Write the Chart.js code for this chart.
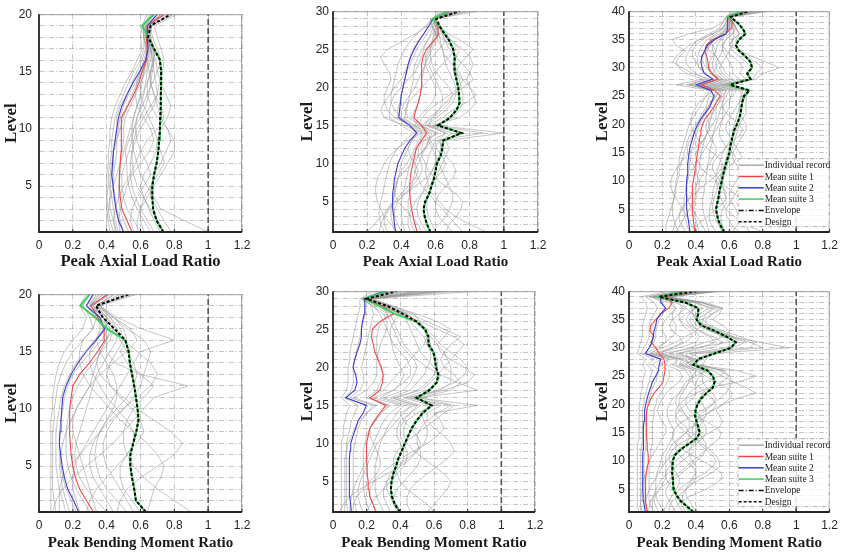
<!DOCTYPE html>
<html><head><meta charset="utf-8">
<script src="https://cdn.jsdelivr.net/npm/chart.js@4.4.0/dist/chart.umd.min.js"></script>
<style>
html,body{margin:0;padding:0;background:#fff;}
#wrap{position:relative;width:844px;height:554px;overflow:hidden;background:#fff;}
#wrap canvas{position:absolute;}
</style></head><body><div id="wrap"></div>
<script>
// ---------- categories ----------
const levels20 = [1,2,3,4,5,6,7,8,9,10,11,12,13,14,15,16,17,18,19,20];
const levels30 = [1,2,3,4,5,6,7,8,9,10,11,12,13,14,15,16,17,18,19,20,21,22,23,24,25,26,27,28,29,30];
const levels40 = [1,2,3,4,5,6,7,8,9,10,11,12,13,14,15,16,17,18,19,20,21,22,23,24,25,26,27,28,29,30,31,32,33,34,35,36,37,38,39,40];
const xTickValues = [0,0.2,0.4,0.6,0.8,1,1.2];
const designRatio = 1;
const legendLabels = ['Individual record','Mean suite 1','Mean suite 2','Mean suite 3','Envelope','Design'];

// ---------- 20-storey, axial ----------
const axial20Records = [
[0.42,0.41,0.40,0.40,0.41,0.41,0.42,0.43,0.43,0.44,0.45,0.47,0.50,0.53,0.56,0.60,0.62,0.62,0.62,0.66],
[0.47,0.45,0.44,0.43,0.42,0.43,0.44,0.44,0.45,0.46,0.46,0.48,0.52,0.55,0.58,0.61,0.63,0.64,0.64,0.70],
[0.53,0.50,0.48,0.47,0.47,0.48,0.48,0.49,0.50,0.50,0.51,0.54,0.57,0.60,0.63,0.65,0.66,0.64,0.65,0.72],
[0.60,0.56,0.52,0.50,0.49,0.49,0.51,0.53,0.55,0.56,0.58,0.60,0.62,0.63,0.64,0.66,0.67,0.66,0.66,0.74],
[0.66,0.62,0.58,0.55,0.53,0.52,0.52,0.51,0.53,0.56,0.60,0.63,0.65,0.66,0.67,0.68,0.66,0.64,0.67,0.76],
[0.72,0.68,0.65,0.62,0.60,0.62,0.66,0.69,0.70,0.68,0.65,0.62,0.60,0.60,0.62,0.64,0.65,0.63,0.63,0.68],
[1.00,0.86,0.72,0.68,0.64,0.60,0.58,0.56,0.55,0.55,0.56,0.58,0.61,0.64,0.66,0.68,0.68,0.65,0.66,0.80],
[0.45,0.44,0.45,0.47,0.50,0.54,0.57,0.60,0.64,0.70,0.74,0.72,0.68,0.66,0.66,0.67,0.66,0.63,0.64,0.72],
[0.78,0.74,0.70,0.66,0.66,0.68,0.72,0.75,0.78,0.76,0.72,0.70,0.68,0.66,0.65,0.64,0.63,0.62,0.61,0.66],
[0.50,0.48,0.46,0.45,0.44,0.44,0.45,0.46,0.46,0.47,0.48,0.50,0.53,0.57,0.60,0.63,0.65,0.63,0.63,0.70],
[0.56,0.54,0.55,0.58,0.62,0.66,0.64,0.60,0.58,0.57,0.58,0.61,0.64,0.67,0.70,0.72,0.70,0.67,0.66,0.78],
[0.44,0.42,0.41,0.40,0.40,0.40,0.41,0.41,0.42,0.42,0.43,0.45,0.48,0.51,0.55,0.58,0.61,0.60,0.61,0.64],
[0.62,0.60,0.60,0.62,0.66,0.70,0.74,0.72,0.70,0.72,0.76,0.78,0.75,0.72,0.70,0.69,0.67,0.64,0.65,0.72],
[0.48,0.47,0.48,0.50,0.52,0.55,0.60,0.65,0.68,0.66,0.62,0.58,0.57,0.58,0.60,0.62,0.64,0.62,0.62,0.68],
[0.74,0.70,0.66,0.62,0.58,0.56,0.55,0.55,0.56,0.58,0.62,0.66,0.70,0.71,0.73,0.74,0.72,0.70,0.68,0.82],
[0.40,0.40,0.41,0.42,0.44,0.46,0.48,0.50,0.52,0.54,0.56,0.58,0.60,0.61,0.62,0.63,0.64,0.62,0.62,0.67],
[0.68,0.64,0.60,0.57,0.55,0.54,0.54,0.55,0.57,0.60,0.64,0.68,0.70,0.69,0.68,0.67,0.66,0.64,0.64,0.75],
[0.46,0.44,0.42,0.42,0.42,0.42,0.43,0.44,0.46,0.48,0.50,0.52,0.55,0.58,0.61,0.64,0.66,0.65,0.65,0.73],
[0.58,0.58,0.60,0.64,0.68,0.72,0.76,0.80,0.80,0.76,0.70,0.66,0.64,0.64,0.66,0.68,0.68,0.66,0.65,0.70]
];
const axial20Suite1 = [0.55,0.52,0.49,0.48,0.475,0.475,0.48,0.485,0.485,0.485,0.49,0.525,0.56,0.59,0.61,0.635,0.64,0.635,0.64,0.74];
const axial20Suite2 = [0.50,0.47,0.455,0.445,0.438,0.43,0.435,0.44,0.45,0.46,0.47,0.49,0.52,0.555,0.595,0.63,0.645,0.64,0.64,0.70];
const axial20Suite3 = [0.735,0.695,0.675,0.67,0.67,0.68,0.695,0.705,0.71,0.715,0.717,0.72,0.72,0.722,0.722,0.715,0.68,0.645,0.61,0.68];
const axial20Envelope = [0.735,0.695,0.675,0.67,0.67,0.68,0.695,0.705,0.71,0.715,0.717,0.72,0.72,0.722,0.722,0.715,0.68,0.645,0.66,0.78];

// ---------- 30-storey, axial ----------
const axial30Records = [
[0.30,0.28,0.27,0.27,0.28,0.29,0.30,0.31,0.32,0.33,0.35,0.38,0.42,0.47,0.40,0.33,0.33,0.34,0.34,0.35,0.36,0.37,0.38,0.40,0.42,0.45,0.49,0.54,0.58,0.64],
[0.36,0.35,0.34,0.34,0.35,0.36,0.37,0.38,0.39,0.40,0.42,0.44,0.46,0.49,0.44,0.38,0.38,0.39,0.40,0.41,0.42,0.43,0.45,0.47,0.49,0.52,0.55,0.58,0.60,0.68],
[0.42,0.41,0.40,0.40,0.40,0.41,0.42,0.43,0.44,0.45,0.47,0.49,0.51,0.53,0.47,0.42,0.43,0.44,0.45,0.46,0.47,0.47,0.48,0.50,0.52,0.55,0.58,0.61,0.60,0.72],
[0.48,0.46,0.45,0.44,0.44,0.45,0.46,0.47,0.48,0.50,0.52,0.54,0.56,0.58,0.50,0.46,0.48,0.50,0.51,0.52,0.52,0.53,0.54,0.55,0.57,0.59,0.61,0.62,0.60,0.75],
[0.55,0.52,0.50,0.49,0.50,0.52,0.54,0.56,0.58,0.60,0.62,0.63,0.63,0.70,0.55,0.60,0.66,0.70,0.72,0.72,0.70,0.68,0.66,0.65,0.64,0.63,0.62,0.61,0.59,0.70],
[0.20,0.24,0.28,0.32,0.35,0.36,0.37,0.38,0.40,0.43,0.46,0.48,0.50,0.52,0.46,0.36,0.32,0.30,0.30,0.32,0.34,0.33,0.30,0.28,0.32,0.40,0.48,0.55,0.58,0.62],
[0.90,0.80,0.72,0.66,0.62,0.58,0.56,0.55,0.54,0.55,0.56,0.58,0.60,0.88,0.58,0.74,0.80,0.84,0.82,0.80,0.78,0.80,0.82,0.80,0.76,0.70,0.65,0.62,0.60,0.85],
[0.66,0.68,0.72,0.75,0.76,0.72,0.66,0.60,0.56,0.54,0.52,0.52,0.53,0.62,0.50,0.52,0.56,0.62,0.68,0.74,0.76,0.74,0.70,0.66,0.64,0.62,0.60,0.58,0.58,0.66],
[0.38,0.34,0.30,0.28,0.26,0.25,0.25,0.26,0.28,0.30,0.33,0.38,0.44,0.52,0.42,0.30,0.28,0.30,0.33,0.36,0.40,0.42,0.44,0.45,0.47,0.50,0.53,0.56,0.59,0.64],
[0.60,0.58,0.56,0.55,0.55,0.56,0.58,0.60,0.62,0.64,0.66,0.68,0.66,1.00,0.60,0.70,0.74,0.76,0.76,0.75,0.74,0.72,0.70,0.72,0.74,0.70,0.66,0.63,0.61,0.78],
[0.45,0.44,0.44,0.46,0.48,0.52,0.56,0.60,0.64,0.66,0.64,0.60,0.57,0.56,0.52,0.58,0.64,0.68,0.70,0.68,0.64,0.60,0.58,0.57,0.57,0.58,0.59,0.60,0.58,0.70],
[0.52,0.50,0.46,0.42,0.38,0.36,0.36,0.38,0.42,0.46,0.50,0.54,0.56,0.60,0.52,0.44,0.42,0.44,0.48,0.52,0.56,0.60,0.64,0.68,0.72,0.66,0.60,0.58,0.57,0.68],
[0.32,0.30,0.30,0.32,0.36,0.40,0.44,0.48,0.50,0.48,0.45,0.44,0.46,0.50,0.45,0.40,0.36,0.34,0.36,0.40,0.44,0.48,0.50,0.52,0.53,0.55,0.57,0.59,0.60,0.66],
[0.70,0.66,0.62,0.60,0.60,0.62,0.66,0.70,0.72,0.70,0.66,0.64,0.62,0.76,0.56,0.64,0.70,0.78,0.84,0.80,0.76,0.72,0.74,0.78,0.82,0.76,0.68,0.62,0.60,0.72],
[0.27,0.28,0.30,0.33,0.37,0.42,0.46,0.50,0.52,0.52,0.50,0.50,0.52,0.56,0.48,0.40,0.40,0.42,0.45,0.48,0.50,0.52,0.54,0.56,0.58,0.60,0.61,0.60,0.59,0.66],
[0.58,0.62,0.66,0.68,0.70,0.70,0.68,0.66,0.64,0.62,0.60,0.60,0.62,0.66,0.56,0.58,0.62,0.64,0.64,0.62,0.60,0.58,0.56,0.58,0.62,0.66,0.64,0.62,0.60,0.74],
[0.40,0.38,0.36,0.36,0.38,0.42,0.48,0.54,0.58,0.60,0.60,0.58,0.56,0.54,0.48,0.50,0.54,0.58,0.60,0.60,0.58,0.56,0.54,0.54,0.56,0.58,0.60,0.61,0.60,0.70],
[0.76,0.72,0.68,0.64,0.60,0.56,0.52,0.50,0.48,0.48,0.50,0.54,0.58,0.66,0.54,0.56,0.62,0.66,0.70,0.76,0.82,0.80,0.76,0.72,0.68,0.66,0.64,0.62,0.60,0.80]
];
const axial30Suite1 = [0.492,0.48,0.469,0.46,0.453,0.45,0.449,0.452,0.458,0.468,0.478,0.488,0.518,0.547,0.52,0.473,0.485,0.50,0.51,0.518,0.518,0.518,0.52,0.527,0.547,0.586,0.62,0.615,0.59,0.68];
const axial30Suite2 = [0.367,0.36,0.355,0.35,0.348,0.35,0.355,0.36,0.37,0.38,0.40,0.42,0.45,0.49,0.45,0.385,0.39,0.395,0.40,0.41,0.42,0.43,0.44,0.455,0.475,0.50,0.53,0.56,0.585,0.68];
const axial30Suite3 = [0.57,0.55,0.537,0.53,0.54,0.5625,0.576,0.59,0.60,0.608,0.63,0.64,0.645,0.752,0.615,0.684,0.723,0.742,0.738,0.733,0.723,0.713,0.71,0.713,0.703,0.684,0.654,0.625,0.586,0.68];
const axial30Envelope = [0.57,0.55,0.537,0.53,0.54,0.5625,0.576,0.59,0.60,0.608,0.63,0.64,0.645,0.752,0.615,0.684,0.723,0.742,0.738,0.733,0.723,0.713,0.71,0.713,0.703,0.684,0.654,0.625,0.605,0.742];

// ---------- 40-storey, axial ----------
const axial40Records = [
[0.30,0.28,0.27,0.26,0.26,0.26,0.27,0.27,0.28,0.28,0.29,0.29,0.30,0.30,0.31,0.32,0.33,0.34,0.35,0.36,0.38,0.40,0.42,0.44,0.46,0.48,0.36,0.46,0.40,0.36,0.34,0.34,0.36,0.38,0.42,0.48,0.54,0.56,0.58,0.64],
[0.36,0.35,0.34,0.33,0.33,0.33,0.33,0.34,0.34,0.35,0.35,0.36,0.36,0.37,0.37,0.38,0.39,0.40,0.41,0.42,0.43,0.45,0.47,0.49,0.51,0.52,0.40,0.50,0.45,0.42,0.41,0.41,0.42,0.44,0.47,0.52,0.57,0.58,0.59,0.68],
[0.42,0.41,0.40,0.39,0.39,0.39,0.39,0.40,0.40,0.41,0.41,0.42,0.42,0.43,0.43,0.44,0.45,0.46,0.47,0.48,0.49,0.50,0.51,0.52,0.54,0.55,0.44,0.53,0.49,0.47,0.46,0.46,0.47,0.48,0.51,0.55,0.59,0.60,0.60,0.70],
[0.48,0.47,0.46,0.45,0.44,0.44,0.44,0.45,0.45,0.46,0.46,0.47,0.47,0.48,0.48,0.49,0.50,0.50,0.51,0.52,0.53,0.54,0.55,0.56,0.57,0.58,0.48,0.56,0.52,0.50,0.50,0.51,0.52,0.53,0.55,0.58,0.60,0.61,0.61,0.74],
[0.56,0.54,0.52,0.51,0.50,0.50,0.51,0.52,0.53,0.54,0.55,0.56,0.57,0.58,0.59,0.60,0.61,0.62,0.62,0.63,0.64,0.65,0.66,0.66,0.67,0.68,0.56,0.70,0.66,0.68,0.66,0.62,0.58,0.56,0.58,0.62,0.63,0.62,0.61,0.76],
[0.22,0.22,0.23,0.24,0.25,0.26,0.27,0.28,0.28,0.29,0.30,0.30,0.31,0.32,0.33,0.34,0.35,0.36,0.38,0.40,0.42,0.44,0.46,0.47,0.48,0.50,0.28,0.44,0.34,0.30,0.28,0.30,0.34,0.28,0.26,0.36,0.50,0.56,0.58,0.62],
[0.80,0.72,0.66,0.62,0.58,0.56,0.55,0.54,0.53,0.52,0.52,0.53,0.54,0.55,0.56,0.58,0.60,0.62,0.64,0.66,0.68,0.70,0.70,0.70,0.70,0.72,0.58,0.76,0.80,0.90,0.82,0.74,0.66,0.60,0.62,0.66,0.64,0.62,0.60,0.82],
[0.62,0.64,0.68,0.70,0.72,0.70,0.66,0.62,0.58,0.55,0.52,0.50,0.50,0.52,0.55,0.58,0.62,0.66,0.68,0.66,0.62,0.58,0.56,0.58,0.62,0.64,0.50,0.62,0.58,0.56,0.54,0.52,0.50,0.50,0.54,0.58,0.60,0.60,0.60,0.72],
[0.34,0.32,0.30,0.30,0.31,0.33,0.36,0.40,0.44,0.48,0.52,0.55,0.56,0.54,0.50,0.46,0.42,0.40,0.38,0.37,0.37,0.38,0.40,0.42,0.46,0.50,0.38,0.50,0.46,0.42,0.40,0.38,0.38,0.40,0.44,0.50,0.56,0.58,0.59,0.66],
[0.66,0.62,0.60,0.58,0.58,0.60,0.62,0.64,0.66,0.68,0.70,0.72,0.70,0.68,0.66,0.64,0.62,0.60,0.58,0.58,0.60,0.62,0.64,0.66,0.68,0.70,0.54,0.72,0.70,0.74,0.70,0.66,0.62,0.60,0.62,0.66,0.64,0.62,0.61,0.78],
[0.40,0.38,0.36,0.34,0.32,0.30,0.28,0.26,0.25,0.25,0.26,0.28,0.30,0.33,0.36,0.40,0.44,0.46,0.48,0.48,0.47,0.46,0.47,0.49,0.52,0.54,0.42,0.54,0.50,0.48,0.48,0.50,0.52,0.50,0.48,0.54,0.58,0.59,0.60,0.68],
[0.52,0.50,0.48,0.48,0.48,0.49,0.50,0.50,0.51,0.52,0.54,0.58,0.62,0.64,0.62,0.58,0.56,0.54,0.54,0.55,0.56,0.58,0.60,0.60,0.61,0.62,0.50,0.60,0.56,0.54,0.56,0.58,0.60,0.62,0.62,0.63,0.62,0.61,0.60,0.72],
[0.28,0.30,0.32,0.34,0.36,0.38,0.40,0.41,0.42,0.42,0.41,0.40,0.38,0.36,0.35,0.35,0.36,0.38,0.40,0.42,0.44,0.46,0.48,0.50,0.52,0.54,0.34,0.48,0.38,0.32,0.26,0.28,0.32,0.36,0.42,0.50,0.56,0.58,0.58,0.64],
[0.58,0.56,0.55,0.55,0.56,0.58,0.58,0.57,0.56,0.56,0.57,0.58,0.59,0.60,0.61,0.62,0.63,0.64,0.65,0.66,0.66,0.66,0.67,0.68,0.68,0.66,0.52,0.66,0.62,0.62,0.60,0.58,0.56,0.56,0.58,0.62,0.64,0.63,0.62,0.80],
[0.26,0.27,0.28,0.30,0.32,0.34,0.36,0.38,0.40,0.42,0.44,0.46,0.48,0.50,0.52,0.52,0.50,0.48,0.46,0.46,0.48,0.50,0.52,0.54,0.55,0.56,0.42,0.54,0.50,0.52,0.54,0.52,0.48,0.46,0.50,0.56,0.60,0.60,0.60,0.70],
[0.72,0.70,0.68,0.66,0.64,0.62,0.60,0.60,0.62,0.64,0.66,0.66,0.64,0.62,0.62,0.64,0.66,0.68,0.70,0.70,0.68,0.66,0.66,0.68,0.70,0.72,0.56,0.74,0.76,0.80,0.76,0.70,0.66,0.64,0.64,0.66,0.64,0.62,0.61,0.84],
[0.46,0.44,0.42,0.40,0.38,0.36,0.35,0.34,0.34,0.35,0.36,0.38,0.40,0.42,0.44,0.46,0.48,0.50,0.52,0.54,0.56,0.56,0.56,0.56,0.58,0.60,0.46,0.58,0.54,0.52,0.52,0.54,0.56,0.56,0.56,0.60,0.62,0.61,0.60,0.74],
[0.38,0.40,0.44,0.48,0.52,0.56,0.58,0.58,0.56,0.52,0.48,0.44,0.42,0.40,0.40,0.42,0.44,0.46,0.48,0.50,0.52,0.52,0.52,0.54,0.56,0.58,0.44,0.56,0.50,0.46,0.44,0.44,0.46,0.48,0.52,0.56,0.58,0.59,0.59,0.66]
];
const axial40Suite1 = [0.395,0.39,0.385,0.382,0.38,0.378,0.378,0.378,0.38,0.385,0.39,0.395,0.40,0.405,0.41,0.415,0.42,0.425,0.43,0.44,0.455,0.482,0.505,0.525,0.547,0.51,0.434,0.531,0.492,0.476,0.472,0.465,0.453,0.462,0.50,0.58,0.61,0.62,0.594,0.69];
const axial40Suite2 = [0.365,0.36,0.355,0.35,0.346,0.345,0.344,0.343,0.344,0.346,0.348,0.35,0.352,0.355,0.36,0.365,0.375,0.385,0.395,0.41,0.43,0.455,0.482,0.495,0.508,0.49,0.404,0.502,0.45,0.4375,0.43,0.435,0.453,0.47,0.512,0.58,0.59,0.59,0.59,0.6875];
const axial40Suite3 = [0.57,0.55,0.535,0.527,0.52,0.527,0.535,0.54,0.547,0.555,0.562,0.57,0.58,0.59,0.60,0.605,0.613,0.621,0.629,0.645,0.658,0.668,0.672,0.678,0.6875,0.72,0.605,0.727,0.707,0.736,0.727,0.697,0.658,0.639,0.658,0.697,0.678,0.648,0.594,0.68];
const axial40Envelope = [0.57,0.55,0.535,0.527,0.52,0.527,0.535,0.54,0.547,0.555,0.562,0.57,0.58,0.59,0.60,0.605,0.613,0.621,0.629,0.645,0.658,0.668,0.672,0.678,0.6875,0.72,0.605,0.727,0.707,0.736,0.727,0.697,0.658,0.639,0.658,0.697,0.678,0.648,0.609,0.717];

// ---------- 20-storey, bending ----------
const bending20Records = [
[0.10,0.09,0.08,0.08,0.08,0.08,0.08,0.08,0.09,0.09,0.10,0.11,0.13,0.16,0.20,0.26,0.32,0.30,0.26,0.30],
[0.16,0.14,0.12,0.11,0.10,0.10,0.10,0.10,0.11,0.12,0.13,0.15,0.18,0.22,0.27,0.33,0.38,0.34,0.28,0.33],
[0.22,0.19,0.16,0.14,0.13,0.12,0.12,0.12,0.13,0.14,0.15,0.17,0.20,0.25,0.31,0.37,0.41,0.36,0.30,0.36],
[0.30,0.26,0.22,0.19,0.17,0.16,0.16,0.16,0.17,0.18,0.20,0.23,0.27,0.32,0.37,0.42,0.44,0.38,0.32,0.40],
[0.40,0.34,0.28,0.24,0.22,0.21,0.22,0.24,0.26,0.28,0.30,0.32,0.34,0.38,0.42,0.46,0.46,0.40,0.34,0.45],
[0.60,0.55,0.50,0.48,0.48,0.52,0.58,0.62,0.60,0.55,0.48,0.42,0.40,0.42,0.46,0.50,0.48,0.42,0.36,0.52],
[0.90,0.80,0.70,0.62,0.56,0.52,0.50,0.50,0.52,0.56,0.62,0.68,0.60,0.52,0.48,0.52,0.50,0.44,0.35,0.56],
[0.08,0.10,0.14,0.20,0.28,0.36,0.44,0.50,0.56,0.62,0.68,0.88,0.60,0.45,0.40,0.40,0.40,0.38,0.32,0.42],
[0.46,0.48,0.52,0.60,0.70,0.80,0.85,0.78,0.68,0.58,0.50,0.42,0.36,0.34,0.36,0.40,0.42,0.38,0.30,0.38],
[0.24,0.22,0.20,0.20,0.21,0.24,0.28,0.32,0.36,0.40,0.44,0.48,0.52,0.56,0.60,0.80,0.60,0.46,0.36,0.50],
[0.34,0.32,0.30,0.28,0.26,0.24,0.22,0.20,0.20,0.22,0.26,0.30,0.36,0.44,0.52,0.58,0.54,0.44,0.34,0.44],
[0.12,0.12,0.12,0.14,0.18,0.24,0.30,0.36,0.40,0.44,0.46,0.46,0.44,0.40,0.36,0.34,0.36,0.36,0.30,0.34],
[0.52,0.46,0.40,0.36,0.34,0.33,0.34,0.36,0.40,0.46,0.52,0.56,0.58,0.56,0.52,0.48,0.46,0.42,0.34,0.48],
[0.64,0.66,0.68,0.72,0.74,0.70,0.64,0.56,0.48,0.42,0.36,0.30,0.26,0.24,0.24,0.26,0.32,0.34,0.28,0.36],
[0.07,0.07,0.07,0.07,0.07,0.07,0.07,0.07,0.07,0.08,0.08,0.09,0.10,0.12,0.15,0.20,0.26,0.28,0.24,0.28],
[0.18,0.16,0.14,0.13,0.12,0.13,0.14,0.16,0.19,0.22,0.26,0.30,0.32,0.34,0.36,0.40,0.44,0.40,0.30,0.38],
[0.44,0.40,0.36,0.32,0.30,0.30,0.32,0.36,0.42,0.50,0.58,0.66,0.70,0.66,0.58,0.50,0.44,0.38,0.30,0.42],
[0.28,0.30,0.34,0.40,0.46,0.52,0.56,0.56,0.52,0.46,0.40,0.36,0.32,0.30,0.30,0.34,0.40,0.40,0.32,0.40],
[0.56,0.52,0.48,0.44,0.40,0.38,0.38,0.40,0.44,0.50,0.56,0.60,0.62,0.64,0.66,0.62,0.52,0.44,0.36,0.58]
];
const bending20Suite1 = [0.323,0.28,0.24,0.215,0.20,0.19,0.185,0.18,0.18,0.183,0.19,0.20,0.24,0.298,0.347,0.39,0.385,0.347,0.308,0.406];
const bending20Suite2 = [0.235,0.204,0.17,0.15,0.137,0.128,0.12,0.125,0.13,0.135,0.14,0.16,0.19,0.23,0.28,0.337,0.39,0.357,0.28,0.32];
const bending20Suite3 = [0.631,0.573,0.563,0.55,0.54,0.54,0.557,0.575,0.588,0.583,0.573,0.563,0.55,0.537,0.53,0.51,0.40,0.33,0.245,0.30];
const bending20Envelope = [0.631,0.573,0.563,0.55,0.54,0.54,0.557,0.575,0.588,0.583,0.573,0.563,0.55,0.537,0.53,0.51,0.445,0.376,0.337,0.533];

// ---------- 30-storey, bending ----------
const bending30Records = [
[0.05,0.05,0.05,0.05,0.05,0.05,0.05,0.05,0.05,0.05,0.06,0.06,0.07,0.08,0.10,0.05,0.08,0.09,0.09,0.09,0.10,0.10,0.11,0.12,0.13,0.14,0.15,0.16,0.16,0.24],
[0.09,0.08,0.08,0.08,0.08,0.08,0.08,0.08,0.08,0.08,0.09,0.10,0.11,0.13,0.15,0.07,0.11,0.12,0.12,0.12,0.13,0.14,0.15,0.16,0.17,0.18,0.19,0.19,0.18,0.30],
[0.14,0.13,0.12,0.12,0.12,0.12,0.12,0.12,0.12,0.13,0.14,0.15,0.17,0.20,0.24,0.10,0.16,0.18,0.18,0.17,0.18,0.19,0.20,0.21,0.22,0.23,0.24,0.23,0.20,0.36],
[0.22,0.20,0.19,0.18,0.18,0.18,0.18,0.18,0.18,0.19,0.20,0.22,0.25,0.29,0.33,0.20,0.26,0.28,0.30,0.28,0.27,0.26,0.26,0.26,0.27,0.29,0.33,0.28,0.21,0.42],
[0.30,0.28,0.26,0.25,0.25,0.25,0.25,0.26,0.27,0.28,0.30,0.32,0.35,0.38,0.42,0.28,0.36,0.40,0.42,0.40,0.38,0.36,0.35,0.34,0.34,0.36,0.40,0.32,0.22,0.50],
[0.40,0.36,0.34,0.32,0.32,0.34,0.38,0.44,0.50,0.54,0.56,0.56,0.54,0.52,0.58,0.42,0.56,0.62,0.64,0.60,0.56,0.52,0.50,0.48,0.46,0.44,0.42,0.34,0.20,0.56],
[0.56,0.60,0.64,0.68,0.70,0.66,0.60,0.54,0.48,0.44,0.42,0.42,0.44,0.50,0.60,0.46,0.62,0.72,0.78,0.80,0.76,0.70,0.64,0.60,0.56,0.50,0.44,0.34,0.22,0.66],
[0.04,0.06,0.10,0.16,0.24,0.32,0.40,0.46,0.50,0.52,0.50,0.46,0.42,0.40,0.48,0.36,0.52,0.58,0.62,0.66,0.70,0.74,0.78,0.72,0.62,0.52,0.42,0.30,0.19,0.48],
[0.26,0.24,0.22,0.22,0.24,0.28,0.34,0.40,0.48,0.56,0.62,0.66,0.64,0.60,0.86,0.50,0.86,0.74,0.64,0.56,0.50,0.46,0.42,0.40,0.38,0.36,0.34,0.28,0.18,0.60],
[0.34,0.32,0.30,0.30,0.32,0.36,0.40,0.42,0.42,0.40,0.38,0.38,0.40,0.46,0.52,0.38,0.50,0.56,0.60,0.62,0.62,0.60,0.58,0.56,0.54,0.52,0.48,0.36,0.22,0.72],
[0.12,0.12,0.14,0.18,0.22,0.26,0.28,0.28,0.26,0.24,0.22,0.22,0.24,0.28,0.34,0.22,0.30,0.34,0.38,0.42,0.46,0.50,0.54,0.56,0.54,0.48,0.40,0.30,0.20,0.40],
[0.46,0.44,0.44,0.46,0.50,0.56,0.62,0.68,0.72,0.70,0.66,0.60,0.56,0.56,0.64,0.48,0.66,0.80,0.84,0.78,0.70,0.64,0.62,0.66,0.70,0.62,0.50,0.36,0.24,0.85],
[0.18,0.16,0.15,0.15,0.16,0.18,0.20,0.22,0.24,0.26,0.30,0.34,0.38,0.42,0.46,0.30,0.42,0.46,0.48,0.50,0.48,0.44,0.40,0.38,0.36,0.34,0.32,0.26,0.18,0.34],
[0.60,0.56,0.50,0.44,0.40,0.38,0.36,0.36,0.38,0.42,0.48,0.54,0.60,0.66,0.72,0.52,0.70,0.76,0.72,0.66,0.64,0.66,0.70,0.76,0.66,0.56,0.46,0.34,0.20,0.62],
[0.07,0.07,0.07,0.07,0.07,0.07,0.07,0.07,0.08,0.09,0.11,0.13,0.16,0.20,0.26,0.12,0.20,0.24,0.26,0.26,0.26,0.27,0.28,0.30,0.32,0.32,0.30,0.24,0.17,0.28],
[0.20,0.22,0.26,0.30,0.34,0.38,0.42,0.44,0.44,0.42,0.40,0.40,0.42,0.46,0.50,0.34,0.46,0.50,0.54,0.56,0.58,0.58,0.56,0.54,0.50,0.46,0.40,0.30,0.19,0.52],
[0.38,0.36,0.36,0.38,0.42,0.46,0.50,0.52,0.52,0.50,0.50,0.52,0.56,0.62,0.70,0.44,0.64,0.70,0.70,0.70,0.68,0.66,0.62,0.58,0.54,0.50,0.44,0.34,0.21,0.66],
[0.10,0.10,0.11,0.12,0.14,0.16,0.18,0.20,0.22,0.24,0.26,0.28,0.30,0.34,0.40,0.24,0.36,0.42,0.46,0.46,0.44,0.40,0.36,0.34,0.32,0.30,0.28,0.24,0.17,0.32]
];
const bending30Suite1 = [0.254,0.238,0.219,0.213,0.209,0.203,0.203,0.199,0.199,0.199,0.209,0.219,0.249,0.278,0.314,0.219,0.278,0.294,0.298,0.288,0.268,0.249,0.239,0.229,0.233,0.278,0.358,0.30,0.199,0.31];
const bending30Suite2 = [0.109,0.105,0.10,0.098,0.096,0.096,0.097,0.099,0.101,0.105,0.119,0.135,0.149,0.179,0.199,0.076,0.129,0.143,0.135,0.119,0.129,0.143,0.159,0.169,0.169,0.175,0.185,0.189,0.189,0.30];
const bending30Suite3 = [0.398,0.368,0.35,0.344,0.348,0.358,0.374,0.388,0.408,0.427,0.447,0.467,0.497,0.533,0.586,0.497,0.573,0.616,0.626,0.612,0.606,0.596,0.567,0.567,0.547,0.497,0.37,0.28,0.19,0.32];
const bending30Envelope = [0.398,0.368,0.35,0.344,0.348,0.358,0.374,0.388,0.408,0.427,0.447,0.467,0.497,0.533,0.586,0.497,0.573,0.616,0.626,0.612,0.606,0.596,0.567,0.567,0.547,0.497,0.417,0.328,0.199,0.378];

// ---------- 40-storey, bending ----------
const bending40Records = [
[0.06,0.05,0.05,0.05,0.05,0.05,0.05,0.05,0.05,0.05,0.05,0.05,0.05,0.06,0.06,0.06,0.06,0.06,0.06,0.06,0.07,0.07,0.08,0.08,0.09,0.10,0.08,0.10,0.05,0.06,0.07,0.08,0.08,0.08,0.09,0.10,0.11,0.10,0.07,0.24],
[0.08,0.07,0.07,0.07,0.07,0.07,0.07,0.07,0.07,0.07,0.07,0.07,0.08,0.08,0.08,0.08,0.08,0.08,0.08,0.09,0.09,0.10,0.11,0.12,0.13,0.14,0.11,0.15,0.07,0.09,0.11,0.12,0.12,0.12,0.13,0.15,0.17,0.15,0.10,0.30],
[0.11,0.10,0.09,0.09,0.09,0.09,0.09,0.09,0.09,0.09,0.09,0.10,0.10,0.10,0.10,0.10,0.10,0.10,0.11,0.11,0.12,0.13,0.14,0.16,0.17,0.18,0.14,0.19,0.09,0.12,0.15,0.16,0.16,0.17,0.18,0.20,0.22,0.20,0.14,0.34],
[0.15,0.13,0.12,0.12,0.12,0.12,0.12,0.12,0.12,0.12,0.13,0.13,0.14,0.14,0.14,0.14,0.14,0.15,0.15,0.16,0.17,0.19,0.21,0.23,0.24,0.24,0.18,0.24,0.13,0.18,0.22,0.22,0.20,0.20,0.22,0.25,0.28,0.26,0.18,0.40],
[0.22,0.19,0.17,0.16,0.16,0.16,0.16,0.17,0.18,0.19,0.20,0.22,0.24,0.26,0.27,0.26,0.24,0.23,0.23,0.24,0.26,0.30,0.34,0.36,0.36,0.34,0.26,0.30,0.18,0.26,0.32,0.30,0.26,0.24,0.26,0.30,0.34,0.32,0.20,0.46],
[0.32,0.30,0.28,0.28,0.30,0.34,0.40,0.46,0.50,0.52,0.50,0.46,0.42,0.40,0.40,0.42,0.44,0.46,0.46,0.44,0.42,0.44,0.48,0.52,0.50,0.44,0.32,0.40,0.30,0.42,0.52,0.48,0.42,0.38,0.36,0.40,0.44,0.40,0.22,0.52],
[0.40,0.38,0.36,0.34,0.34,0.36,0.38,0.40,0.40,0.38,0.36,0.36,0.38,0.42,0.48,0.54,0.56,0.54,0.52,0.56,0.64,0.76,0.70,0.62,0.56,0.50,0.40,0.42,0.46,0.62,0.70,0.60,0.50,0.42,0.40,0.46,0.52,0.44,0.24,0.50],
[0.26,0.28,0.32,0.38,0.46,0.52,0.56,0.55,0.50,0.44,0.38,0.32,0.28,0.26,0.26,0.28,0.32,0.38,0.44,0.50,0.54,0.58,0.60,0.62,0.60,0.54,0.44,0.46,0.50,0.96,0.78,0.60,0.48,0.40,0.38,0.42,0.48,0.40,0.20,0.48],
[0.18,0.16,0.15,0.16,0.18,0.22,0.26,0.30,0.34,0.38,0.42,0.46,0.50,0.54,0.55,0.52,0.46,0.40,0.36,0.34,0.34,0.36,0.40,0.46,0.54,0.58,0.36,0.34,0.20,0.40,0.60,0.56,0.48,0.44,0.44,0.50,0.56,0.42,0.18,0.44],
[0.34,0.32,0.30,0.28,0.26,0.24,0.22,0.22,0.24,0.28,0.32,0.36,0.40,0.44,0.46,0.46,0.44,0.42,0.40,0.40,0.42,0.46,0.52,0.56,0.60,0.56,0.42,0.36,0.34,0.72,0.76,0.66,0.56,0.48,0.44,0.46,0.50,0.40,0.22,0.56],
[0.12,0.12,0.13,0.15,0.18,0.20,0.22,0.22,0.22,0.22,0.22,0.24,0.26,0.30,0.34,0.36,0.36,0.34,0.32,0.30,0.30,0.32,0.34,0.36,0.38,0.40,0.30,0.32,0.16,0.30,0.40,0.42,0.40,0.34,0.30,0.34,0.40,0.34,0.16,0.38],
[0.20,0.22,0.24,0.26,0.28,0.30,0.30,0.28,0.26,0.24,0.24,0.26,0.30,0.36,0.40,0.40,0.38,0.34,0.30,0.28,0.28,0.30,0.32,0.34,0.40,0.46,0.36,0.40,0.28,0.50,0.56,0.50,0.42,0.36,0.34,0.36,0.40,0.36,0.18,0.42],
[0.10,0.10,0.10,0.11,0.12,0.14,0.16,0.18,0.20,0.22,0.26,0.30,0.34,0.36,0.36,0.34,0.30,0.28,0.28,0.30,0.34,0.40,0.48,0.66,0.76,0.64,0.40,0.30,0.12,0.20,0.28,0.34,0.40,0.44,0.42,0.38,0.34,0.28,0.14,0.36],
[0.28,0.26,0.24,0.22,0.22,0.24,0.28,0.32,0.36,0.40,0.44,0.46,0.46,0.44,0.42,0.40,0.40,0.42,0.46,0.50,0.52,0.50,0.46,0.44,0.44,0.42,0.34,0.38,0.24,0.36,0.46,0.58,0.60,0.56,0.50,0.54,0.56,0.46,0.24,0.54],
[0.07,0.07,0.07,0.07,0.08,0.08,0.09,0.10,0.11,0.12,0.14,0.16,0.18,0.20,0.22,0.22,0.20,0.18,0.17,0.18,0.20,0.22,0.26,0.30,0.32,0.30,0.22,0.24,0.10,0.16,0.22,0.26,0.28,0.28,0.26,0.26,0.28,0.24,0.12,0.30],
[0.24,0.24,0.26,0.30,0.34,0.38,0.40,0.40,0.38,0.34,0.30,0.28,0.28,0.30,0.34,0.38,0.42,0.46,0.50,0.52,0.50,0.46,0.42,0.40,0.42,0.46,0.38,0.44,0.36,0.58,0.66,0.62,0.54,0.46,0.40,0.38,0.38,0.34,0.18,0.46],
[0.14,0.14,0.14,0.15,0.16,0.18,0.20,0.24,0.28,0.32,0.36,0.40,0.40,0.38,0.34,0.30,0.28,0.28,0.30,0.34,0.38,0.40,0.40,0.38,0.38,0.36,0.28,0.28,0.14,0.26,0.34,0.38,0.36,0.32,0.30,0.30,0.32,0.30,0.15,0.36],
[0.36,0.34,0.32,0.32,0.34,0.38,0.44,0.50,0.54,0.54,0.52,0.48,0.44,0.40,0.38,0.38,0.40,0.44,0.50,0.56,0.60,0.62,0.58,0.52,0.46,0.40,0.30,0.36,0.40,0.80,0.72,0.62,0.52,0.46,0.46,0.50,0.54,0.44,0.22,0.50]
];
const bending40Suite1 = [0.111,0.105,0.098,0.098,0.098,0.099,0.10,0.105,0.11,0.117,0.115,0.111,0.109,0.107,0.105,0.105,0.105,0.105,0.107,0.117,0.13,0.15,0.18,0.203,0.209,0.215,0.215,0.209,0.18,0.16,0.131,0.15,0.125,0.131,0.16,0.19,0.238,0.258,0.219,0.32];
const bending40Suite2 = [0.098,0.092,0.086,0.084,0.082,0.082,0.082,0.082,0.082,0.082,0.083,0.084,0.085,0.086,0.086,0.088,0.09,0.092,0.095,0.10,0.108,0.117,0.13,0.14,0.16,0.176,0.18,0.19,0.098,0.121,0.137,0.145,0.15,0.16,0.166,0.19,0.219,0.19,0.19,0.32];
const bending40Suite3 = [0.385,0.346,0.307,0.283,0.268,0.264,0.262,0.258,0.26,0.262,0.273,0.307,0.355,0.404,0.424,0.414,0.404,0.395,0.398,0.41,0.43,0.463,0.502,0.512,0.502,0.469,0.385,0.414,0.512,0.609,0.639,0.58,0.512,0.43,0.404,0.414,0.414,0.336,0.18,0.33];
const bending40Envelope = [0.385,0.346,0.307,0.283,0.268,0.264,0.262,0.258,0.26,0.262,0.273,0.307,0.355,0.404,0.424,0.414,0.404,0.395,0.398,0.41,0.43,0.463,0.502,0.512,0.502,0.469,0.385,0.414,0.512,0.609,0.639,0.58,0.512,0.43,0.404,0.414,0.414,0.336,0.18,0.404];

// ---------- layout (positions & styles only) ----------
const panelSpecs = [
 {levels:levels20, records:axial20Records, s1:axial20Suite1, s2:axial20Suite2, s3:axial20Suite3, env:axial20Envelope, title:'Peak Axial Load Ratio', box:[0,0,262,275], plot:[39,242,11,232], tsize:16.5, ypad:7, ytitleX:12, xtitleY:262, legend:false},
 {levels:levels30, records:axial30Records, s1:axial30Suite1, s2:axial30Suite2, s3:axial30Suite3, env:axial30Envelope, title:'Peak Axial Load Ratio', box:[290,0,270,275], plot:[333,538,11,232], tsize:15, ypad:4, ytitleX:18, xtitleY:262, legend:false},
 {levels:levels40, records:axial40Records, s1:axial40Suite1, s2:axial40Suite2, s3:axial40Suite3, env:axial40Envelope, title:'Peak Axial Load Ratio', box:[585,0,259,275], plot:[629,834,11,232], tsize:15, ypad:4, ytitleX:18, xtitleY:262, legend:true},
 {levels:levels20, records:bending20Records, s1:bending20Suite1, s2:bending20Suite2, s3:bending20Suite3, env:bending20Envelope, title:'Peak Bending Moment Ratio', box:[0,280,262,274], plot:[39,242,291,512], tsize:15, ypad:7, ytitleX:12, xtitleY:543, legend:false},
 {levels:levels30, records:bending30Records, s1:bending30Suite1, s2:bending30Suite2, s3:bending30Suite3, env:bending30Envelope, title:'Peak Bending Moment Ratio', box:[290,280,270,274], plot:[333,535,291,512], tsize:15, ypad:4, ytitleX:18, xtitleY:543, legend:false},
 {levels:levels40, records:bending40Records, s1:bending40Suite1, s2:bending40Suite2, s3:bending40Suite3, env:bending40Envelope, title:'Peak Bending Moment Ratio', box:[585,280,259,274], plot:[629,834,291,512], tsize:15, ypad:4, ytitleX:18, xtitleY:543, legend:true}
];

const C_GREY = 'rgba(150,150,150,0.55)';
const C_RED = '#f04848';
const C_BLUE = '#3c3ccc';
const C_GREEN = '#3ccf5a';
const C_GRID = 'rgba(150,150,150,0.55)';
const C_AXIS = '#262626';

function pts(levels, vals){ return vals.map((v,i)=>({x:v, y:levels[i]})); }

const framePlugin = {
  id:'frame',
  afterDatasetsDraw(chart){
    const {ctx, chartArea:a, scales} = chart;
    ctx.save();
    ctx.strokeStyle = 'rgba(140,140,140,0.8)'; ctx.lineWidth = 1;
    ctx.beginPath(); ctx.moveTo(a.left, a.top+0.5); ctx.lineTo(a.right-0.5, a.top+0.5); ctx.lineTo(a.right-0.5, a.bottom); ctx.stroke();
    ctx.strokeStyle = C_AXIS; ctx.lineWidth = 1.8;
    ctx.beginPath(); ctx.moveTo(a.left, a.top); ctx.lineTo(a.left, a.bottom); ctx.lineTo(a.right, a.bottom); ctx.stroke();
    ctx.lineWidth = 1;
    xTickValues.forEach(v=>{ const px = scales.x.getPixelForValue(v);
      ctx.beginPath(); ctx.moveTo(px, a.bottom); ctx.lineTo(px, a.bottom-3); ctx.stroke(); });
    const spec = chart.options.plugins.frame;
    if (spec && spec.legend){
      const L = a.right - 92, T = a.top + 147, R = a.right, B = a.top + 216;
      ctx.fillStyle = 'rgba(255,255,255,0.85)';
      ctx.fillRect(L, T, R-L, B-T);
      ctx.setLineDash([4,2,1,2]); ctx.strokeStyle = 'rgba(150,150,150,0.8)'; ctx.lineWidth = 1;
      ctx.strokeRect(L+0.5, T+0.5, R-L-1, B-T-1);
      const styles = [
        {c:'rgba(170,170,170,1)', d:[], w:1.5},
        {c:C_RED, d:[], w:1.5},
        {c:C_BLUE, d:[], w:1.5},
        {c:C_GREEN, d:[], w:1.5},
        {c:'#111', d:[5,2,1,2], w:1.5},
        {c:'#111', d:[3,2], w:1.5}
      ];
      ctx.font = '9.5px "Liberation Serif", "Times New Roman", serif';
      ctx.textBaseline = 'middle'; ctx.textAlign = 'left';
      legendLabels.forEach((lab,i)=>{
        const y = a.top + 154 + i*11.3;
        const st = styles[i];
        ctx.setLineDash(st.d); ctx.strokeStyle = st.c; ctx.lineWidth = st.w;
        ctx.beginPath(); ctx.moveTo(L+1, y); ctx.lineTo(L+26, y); ctx.stroke();
        ctx.setLineDash([]);
        ctx.fillStyle = '#1a1a1a';
        ctx.fillText(lab, L+27, y+0.5);
      });
    }
    ctx.restore();
  }
};

const wrap = document.getElementById('wrap');
panelSpecs.forEach(sp=>{
  const [cx,cy,cw,ch] = sp.box;
  const [pl,pr,pt,pb] = sp.plot;
  const cv = document.createElement('canvas');
  cv.style.left = cx+'px'; cv.style.top = cy+'px';
  cv.style.width = cw+'px'; cv.style.height = ch+'px';
  cv.width = cw; cv.height = ch;
  wrap.appendChild(cv);
  const nMax = sp.levels[sp.levels.length-1];
  const datasets = [];
  sp.records.forEach(r=>datasets.push({data:pts(sp.levels,r), borderColor:C_GREY, borderWidth:1, order:10}));
  datasets.push({data:pts(sp.levels,sp.s1), borderColor:C_RED, borderWidth:1.1, order:6});
  datasets.push({data:pts(sp.levels,sp.s2), borderColor:C_BLUE, borderWidth:1.1, order:5});
  datasets.push({data:pts(sp.levels,sp.s3), borderColor:C_GREEN, borderWidth:2, order:4});
  datasets.push({data:pts(sp.levels,sp.env), borderColor:'#000', borderWidth:2, borderDash:[3,2], order:3});
  datasets.push({data:[{x:designRatio,y:sp.levels[0]},{x:designRatio,y:nMax}], borderColor:'#555', borderWidth:1.6, borderDash:[6,3], order:2});
  const axisH = cy+ch-pb;
  const yW = pl-cx;
  const titleCenterInAxis = sp.xtitleY - pb;
  const titlePadBottom = Math.max(0, axisH - titleCenterInAxis - sp.tsize*0.6);
  new Chart(cv, {
    type:'scatter',
    data:{datasets},
    options:{
      responsive:false, animation:false, devicePixelRatio:1,
      layout:{padding:{left:0, top:pt-cy, right:cx+cw-pr, bottom:0}},
      elements:{point:{radius:0}, line:{tension:0, fill:false}},
      datasets:{scatter:{showLine:true, pointRadius:0}},
      plugins:{legend:{display:false}, tooltip:{enabled:false}, frame:{legend:sp.legend}},
      scales:{
        x:{type:'linear', min:0, max:1.2,
           afterBuildTicks:(s)=>{ s.ticks = xTickValues.map(v=>({value:v})); },
           ticks:{padding:6, color:C_AXIS, font:{family:'"Liberation Sans", Arial, sans-serif', size:12},
             callback:(v)=>String(Math.round(v*10)/10)},
           grid:{color:C_GRID, lineWidth:1, drawTicks:false},
           border:{display:false, dash:[5,2,1,2]},
           title:{display:true, text:sp.title, color:'#1a1a1a',
             font:{family:'"Liberation Serif", "Times New Roman", serif', weight:'bold', size:sp.tsize, lineHeight:1.2},
             padding:{top:0, bottom:titlePadBottom}},
           afterFit:(s)=>{ s.height = axisH; }
        },
        y:{type:'linear', min:sp.levels[0], max:nMax,
           afterBuildTicks:(s)=>{ s.ticks = sp.levels.map(v=>({value:v})); },
           ticks:{autoSkip:false, padding:sp.ypad, color:C_AXIS, font:{family:'"Liberation Sans", Arial, sans-serif', size:12},
             callback:(v)=> (v%5===0 ? String(v) : '')},
           grid:{color:C_GRID, lineWidth:1, drawTicks:false},
           border:{display:false, dash:[5,2,1,2]},
           title:{display:true, text:'Level', color:'#1a1a1a',
             font:{family:'"Liberation Serif", "Times New Roman", serif', weight:'bold', size:17, lineHeight:1.2},
             padding:{top:sp.ytitleX - 10.2, bottom:0}},
           afterFit:(s)=>{ s.width = yW; }
        }
      }
    },
    plugins:[framePlugin]
  });
});
</script>
</body></html>
